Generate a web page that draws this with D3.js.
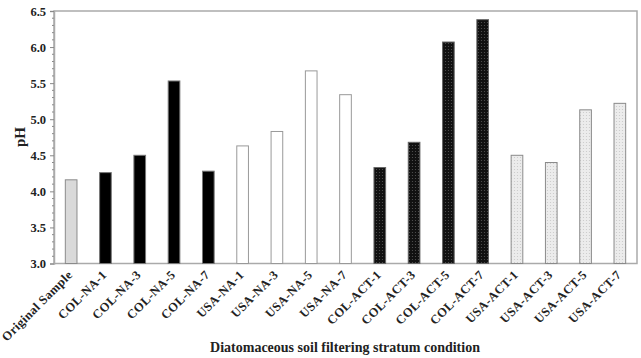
<!DOCTYPE html>
<html><head><meta charset="utf-8">
<script src="https://cdn.jsdelivr.net/npm/d3@7"></script>
<style>body{margin:0;background:#fff}svg{display:block}text{font-family:"Liberation Serif","Times New Roman",serif;font-weight:bold;fill:#222}</style>
</head><body><svg id="c" width="641" height="358"></svg>
<script>
const categories = ["Original Sample","COL-NA-1","COL-NA-3","COL-NA-5","COL-NA-7","USA-NA-1","USA-NA-3","USA-NA-5","USA-NA-7","COL-ACT-1","COL-ACT-3","COL-ACT-5","COL-ACT-7","USA-ACT-1","USA-ACT-3","USA-ACT-5","USA-ACT-7"];
const groups = ["orig","colna","colna","colna","colna","usana","usana","usana","usana","colact","colact","colact","colact","usaact","usaact","usaact","usaact"];
const values = [4.16,4.26,4.50,5.53,4.28,4.63,4.83,5.67,5.34,4.33,4.68,6.07,6.38,4.50,4.40,5.13,5.22];
const yTicks = [3.0,3.5,4.0,4.5,5.0,5.5,6.0,6.5];
const xTitle = "Diatomaceous soil filtering stratum condition";
const yTitle = "pH";

const svg = d3.select("#c");
const defs = svg.append("defs");
const p1 = defs.append("pattern").attr("id","darkdots").attr("width",3).attr("height",3).attr("patternUnits","userSpaceOnUse");
p1.append("rect").attr("width",3).attr("height",3).attr("fill","#111");
p1.append("circle").attr("cx",1.5).attr("cy",1.5).attr("r",0.6).attr("fill","#555");
const p2 = defs.append("pattern").attr("id","lightdots").attr("width",3).attr("height",3).attr("patternUnits","userSpaceOnUse");
p2.append("rect").attr("width",3).attr("height",3).attr("fill","#ececec");
p2.append("circle").attr("cx",1.5).attr("cy",1.5).attr("r",0.6).attr("fill","#c8c8c8");

const fills = {orig:"#d9d9d9", colna:"#000", usana:"#fff", colact:"url(#darkdots)", usaact:"url(#lightdots)"};
const strokes = {orig:"#8a8a8a", colna:"#777", usana:"#999", colact:"#666", usaact:"#8a8a8a"};

const L=54, R=637, T=11, B=263.5;
const x = d3.scaleBand().domain(categories).range([L,R]).paddingInner(0.66).paddingOuter(0.33);
const y = d3.scaleLinear().domain([3,6.5]).range([B,T]);

// frame
svg.append("rect").attr("x",L).attr("y",T).attr("width",R-L).attr("height",B-T).attr("fill","none").attr("stroke","#aaa").attr("stroke-width",1.5);

// bars
svg.append("g").selectAll("rect").data(values).join("rect")
  .attr("x",(d,i)=>x(categories[i]))
  .attr("y",d=>y(d))
  .attr("width",x.bandwidth())
  .attr("height",d=>B-y(d))
  .attr("fill",(d,i)=>fills[groups[i]])
  .attr("stroke",(d,i)=>strokes[groups[i]])
  .attr("stroke-width",1);

// y axis minor ticks
const minor = d3.range(30,66).map(v=>v/10).filter(v=>Math.abs(v*2-Math.round(v*2))>1e-6);
const ya = svg.append("g").attr("transform",`translate(${L},0)`);
ya.selectAll("line.mn").data(minor).join("line").attr("class","mn")
  .attr("x1",-2).attr("x2",1).attr("y1",d=>y(d)).attr("y2",d=>y(d)).attr("stroke","#888").attr("stroke-width",1);
const yAxis = d3.axisLeft(y).tickValues(yTicks).tickFormat(d3.format(".1f")).tickSize(4).tickPadding(4);
ya.call(yAxis);
ya.select(".domain").attr("stroke","#aaa").attr("stroke-width",1.5);
ya.selectAll(".tick line").attr("stroke","#888");
ya.selectAll(".tick text").style("font-size","12.5px").attr("fill","#222");

// x axis
const xa = svg.append("g").attr("transform",`translate(0,${B})`);
xa.call(d3.axisBottom(x).tickSize(0).tickPadding(0));
xa.select(".domain").remove();
xa.selectAll(".tick text").style("font-size","12.5px").style("letter-spacing","0.4px").attr("text-anchor","end")
  .attr("transform","translate(-1,9) rotate(-45)").attr("dy","0.35em").attr("fill","#222");

// titles
svg.append("text").attr("x",345).attr("y",352).attr("text-anchor","middle").style("font-size","14px").text(xTitle);
svg.append("text").attr("transform","translate(25,137) rotate(-90)").attr("text-anchor","middle").style("font-size","15px").text(yTitle);
</script></body></html>
